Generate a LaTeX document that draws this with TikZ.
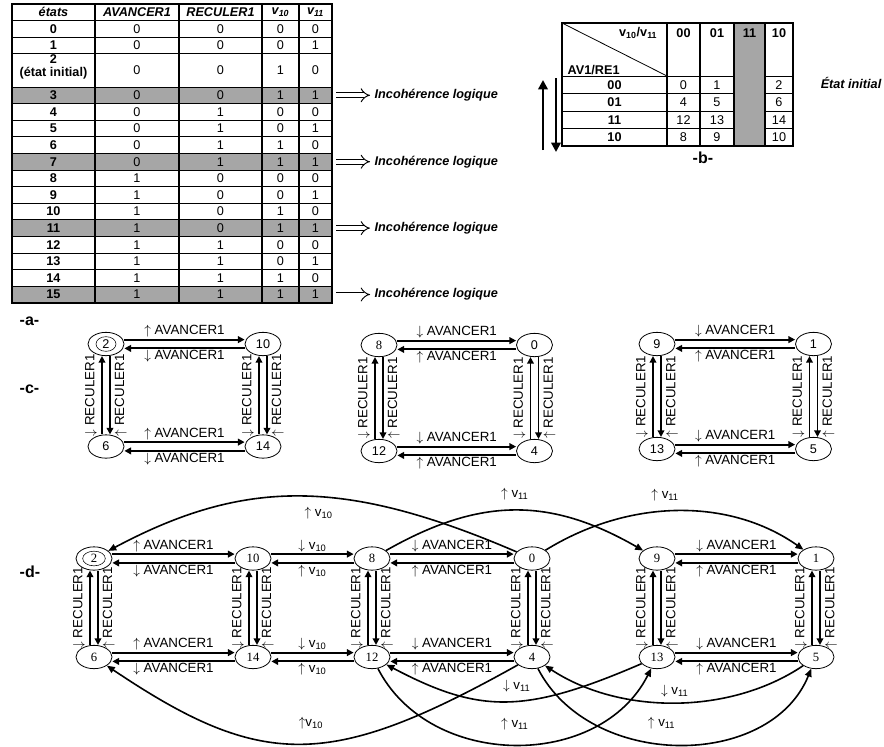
\documentclass[tikz,border=0pt]{standalone}
\usepackage{fontspec}
\setmainfont{Liberation Sans}
\newfontfamily\tnr{Liberation Serif}
\usepackage{tikz}
\usetikzlibrary{shapes.geometric, arrows.meta, positioning}
\definecolor{grisfond}{HTML}{A6A6A6}

\begin{document}
\begin{tikzpicture}[x=0.75pt, y=-0.75pt,
        every node/.style={font=\fontsize{9.5}{10}\selectfont},
        titre/.style={font=\fontsize{9.5}{10}\selectfont\bfseries\itshape},
        gras/.style={font=\fontsize{9.5}{9.5}\selectfont\bfseries},
        repere/.style={anchor=west, font=\fontsize{12}{13}\selectfont\bfseries},
        etat/.style={ellipse, draw, line width=0.6pt, inner sep=0pt,
                     minimum width=27pt, minimum height=17.5pt,
                     font=\fontsize{9.5}{10}\selectfont},
        etatd/.style={etat, font=\tnr\fontsize{9.5}{10}\selectfont},
        fleche/.style={-{Triangle[length=5pt, width=5pt]}, line width=1.4pt},
        courbe/.style={-{Triangle[length=6pt, width=5pt]}, line width=1.2pt},
        grosse/.style={-{Triangle[length=7pt, width=7pt]}, line width=2.2pt},
        etiq/.style={font=\fontsize{10}{11}\selectfont},
        lab/.style={etiq, inner sep=1pt},
        vlg/.style={etiq, rotate=90, anchor=south, inner sep=3pt},
        vld/.style={etiq, rotate=90, anchor=north, inner sep=3pt}
    ]
    \useasboundingbox (0,0) rectangle (884,746);

    % tableau -a-
    \foreach \y in {87, 153.4, 219.8, 286.2}
        \fill[grisfond] (12,\y) rectangle (332,\y+16.6);
    \foreach \y in {20.6, 37.2, 53.8, 87}
        \draw[line width=0.6pt] (12,\y) -- (332,\y);
    \foreach \k in {1,...,12}
        \draw[line width=0.6pt] (12,87+16.6*\k) -- (332,87+16.6*\k);
    \foreach \x in {95, 179, 262, 299}
        \draw[line width=0.9pt] (\x,4) -- (\x,302.8);
    \draw[line width=1.2pt] (12,4) rectangle (332,302.8);

    \node[titre] (h-etats) at (53.5,12.3) {états};
    \node[titre] (h-av) at (137,12.3) {AVANCER1};
    \node[titre] (h-re) at (220.5,12.3) {RECULER1};
    \node[titre] (h-va) at (280.5,12.3) {v\textsubscript{10}};
    \node[titre] (h-vb) at (315.5,12.3) {v\textsubscript{11}};

    \foreach \i/\yc/\av/\re/\va/\vb in {0/28.9/0/0/0/0, 1/45.5/0/0/0/1,
            3/95.3/0/0/1/1, 4/111.9/0/1/0/0, 5/128.5/0/1/0/1, 6/145.1/0/1/1/0,
            7/161.7/0/1/1/1, 8/178.3/1/0/0/0, 9/194.9/1/0/0/1, 10/211.5/1/0/1/0,
            11/228.1/1/0/1/1, 12/244.7/1/1/0/0, 13/261.3/1/1/0/1,
            14/277.9/1/1/1/0, 15/294.5/1/1/1/1} {
        \node[gras] (e\i) at (53.5,\yc) {\i};
        \node (av\i) at (137,\yc) {\av};
        \node (re\i) at (220.5,\yc) {\re};
        \node (va\i) at (280.5,\yc) {\va};
        \node (vb\i) at (315.5,\yc) {\vb};
    }
    \node[gras, align=center] (e2) at (53.5,67) {2\\(état initial)};
    \node (av2) at (137,70.4) {0};
    \node (re2) at (220.5,70.4) {0};
    \node (va2) at (280.5,70.4) {1};
    \node (vb2) at (315.5,70.4) {0};

    \foreach \i/\yc in {3/95.3, 7/161.7, 11/228.1, 15/294.5} {
        \coordinate (bord\i) at (336,\yc);
        \node[titre, anchor=west] (inc\i) at (370,\yc) {Incohérence logique};
        \draw[double, double distance=3pt, line width=0.7pt, -{Implies}]
            (bord\i) -- (inc\i);
    }
    \node[repere] (lab-a) at (15,321) {-a-};

    % tableau -b-
    \fill[grisfond] (734,23) rectangle (765,146);
    \draw[line width=0.6pt] (562,23) -- (667,76);
    \foreach \y in {76, 93.5, 111, 128.5} {
        \draw[line width=0.6pt] (562,\y) -- (734,\y);
        \draw[line width=0.6pt] (765,\y) -- (793,\y);
    }
    \foreach \x in {667, 700, 734, 765}
        \draw[line width=0.9pt] (\x,23) -- (\x,146);
    \draw[line width=1.2pt] (562,23) rectangle (793,146);

    \node[gras, anchor=east] (vv) at (662,33) {v\textsubscript{10}/v\textsubscript{11}};
    \node[gras, anchor=west] (avre) at (563,70) {AV1/RE1};
    \foreach \col/\xc in {00/683.5, 01/717, 11/749.5, 10/779}
        \node[gras] (col\col) at (\xc,33) {\col};
    \foreach \lig/\yc/\u/\v/\w in {00/84.75/0/1/2, 01/102.25/4/5/6,
            11/119.75/12/13/14, 10/137.25/8/9/10} {
        \node[gras] (lig\lig) at (614.5,\yc) {\lig};
        \node (k\u) at (683.5,\yc) {\u};
        \node (k\v) at (717,\yc) {\v};
        \node (k\w) at (779,\yc) {\w};
    }
    \node[titre] (init) at (851,83) {État initial};
    \coordinate (hb) at (543,150);
    \coordinate (hh) at (543,80);
    \coordinate (bh) at (556,78);
    \coordinate (bb) at (556,152);
    \draw[grosse] (hb) -- (hh);
    \draw[grosse] (bh) -- (bb);
    \node[repere] (lab-b) at (688,158) {-b-};

    % graphes -c-
    \node[repere] (lab-c) at (15,389) {-c-};
    \node[etat] (c2) at (106,344) {};
    \node[ellipse, draw, inner sep=0pt, minimum width=15pt,
          minimum height=11pt] (c2i) at (c2) {2};
    \node[etat] (c10) at (263,344) {10};
    \node[etat] (c6) at (106,446.5) {6};
    \node[etat] (c14) at (263,446.5) {14};
    \node[etat] (c8) at (379,345) {\tnr 8};
    \node[etat] (c0) at (534.5,345) {0};
    \node[etat] (c12) at (379,451) {12};
    \node[etat] (c4) at (534.5,451) {4};
    \node[etat] (c9) at (657,344) {9};
    \node[etat] (c1) at (813.5,344) {1};
    \node[etat] (c13) at (657,449) {13};
    \node[etat] (c5) at (813.5,449) {5};

    % graphe -d-
    \node[repere] (lab-d) at (15,572) {-d-};
    \node[etatd] (d2) at (94,558.5) {};
    \node[ellipse, draw, inner sep=0pt, minimum width=17pt,
          minimum height=11pt, font=\tnr\fontsize{9.5}{10}\selectfont] (d2i) at (d2) {2};
    \node[etatd] (d10) at (253,558.5) {10};
    \node[etatd] (d8) at (372,558.5) {8};
    \node[etatd] (d0) at (532,558.5) {0};
    \node[etatd] (d9) at (657,558.5) {9};
    \node[etatd] (d1) at (816,558.5) {1};
    \node[etatd] (d6) at (94,657) {6};
    \node[etatd] (d14) at (253,657) {14};
    \node[etatd] (d12) at (372,657) {12};
    \node[etatd] (d4) at (532,657) {4};
    \node[etatd] (d13) at (657,657) {13};
    \node[etatd] (d5) at (816,657) {5};

    \foreach \a/\b/\c/\d/\h/\k in {c2/c10/c6/c14/\uparrow/\downarrow,
            c8/c0/c12/c4/\downarrow/\uparrow, c9/c1/c13/c5/\downarrow/\uparrow,
            d2/d10/d6/d14/\uparrow/\downarrow, d8/d0/d12/d4/\downarrow/\uparrow,
            d9/d1/d13/d5/\downarrow/\uparrow} {
        \draw[fleche] ([yshift=3.3pt]\a.east) -- node[lab, above] {$\h$ AVANCER1}
            ([yshift=3.3pt]\b.west);
        \draw[fleche] ([yshift=-3.3pt]\b.west) -- node[lab, below] {$\k$ AVANCER1}
            ([yshift=-3.3pt]\a.east);
        \draw[fleche] ([yshift=3.3pt]\c.east) -- node[lab, above] {$\h$ AVANCER1}
            ([yshift=3.3pt]\d.west);
        \draw[fleche] ([yshift=-3.3pt]\d.west) -- node[lab, below] {$\k$ AVANCER1}
            ([yshift=-3.3pt]\c.east);
        \draw[fleche] ([xshift=-3pt]\c.north) -- node[vlg] {$\downarrow$ RECULER1}
            ([xshift=-3pt]\a.south);
        \draw[fleche] ([xshift=3pt]\a.south) -- node[vld] {$\uparrow$ RECULER1}
            ([xshift=3pt]\c.north);
        \draw[fleche] ([xshift=-3pt]\d.north) -- node[vlg] {$\downarrow$ RECULER1}
            ([xshift=-3pt]\b.south);
        \draw[fleche] ([xshift=3pt]\b.south) -- node[vld] {$\uparrow$ RECULER1}
            ([xshift=3pt]\d.north);
    }

    \draw[fleche] ([yshift=3.3pt]d10.east) -- node[lab, above] {$\downarrow$ v\textsubscript{10}}
        ([yshift=3.3pt]d8.west);
    \draw[fleche] ([yshift=-3.3pt]d8.west) -- node[lab, below] {$\uparrow$ v\textsubscript{10}}
        ([yshift=-3.3pt]d10.east);
    \draw[fleche] ([yshift=3.3pt]d14.east) -- node[lab, above] {$\downarrow$ v\textsubscript{10}}
        ([yshift=3.3pt]d12.west);
    \draw[fleche] ([yshift=-3.3pt]d12.west) -- node[lab, below] {$\uparrow$ v\textsubscript{10}}
        ([yshift=-3.3pt]d14.east);

    \draw[courbe] (d0) .. controls (345,478) and (245,478) ..
        node[etiq, pos=0.45, below=4pt] {$\uparrow$ v\textsubscript{10}} (d2);
    \draw[courbe] (d8) .. controls (480,497) and (550,497) ..
        node[etiq, pos=0.5, above=4pt] {$\uparrow$ v\textsubscript{11}} (d9);
    \draw[courbe] (d0) .. controls (630,498) and (730,498) ..
        node[etiq, pos=0.45, above=4pt] {$\uparrow$ v\textsubscript{11}} (d1);
    \draw[courbe] (d4) .. controls (330,770) and (262,770) ..
        node[etiq, pos=0.47, above=7pt] {$\uparrow$v\textsubscript{10}} (d6);
    \draw[courbe] (d12) .. controls (430,770) and (600,770) ..
        node[etiq, pos=0.5, above=7pt] {$\uparrow$ v\textsubscript{11}} (d13);
    \draw[courbe] (d13) .. controls (525,714) and (480,714) ..
        node[etiq, pos=0.45, above=3pt] {$\downarrow$ v\textsubscript{11}} (d12);
    \draw[courbe] (d4) .. controls (590,770) and (770,770) ..
        node[etiq, pos=0.45, above=7pt] {$\uparrow$ v\textsubscript{11}} (d5);
    \draw[courbe] (d5) .. controls (730,715) and (620,715) ..
        node[etiq, pos=0.5, above=0pt] {$\downarrow$ v\textsubscript{11}} (d4);
\end{tikzpicture}
\end{document}
